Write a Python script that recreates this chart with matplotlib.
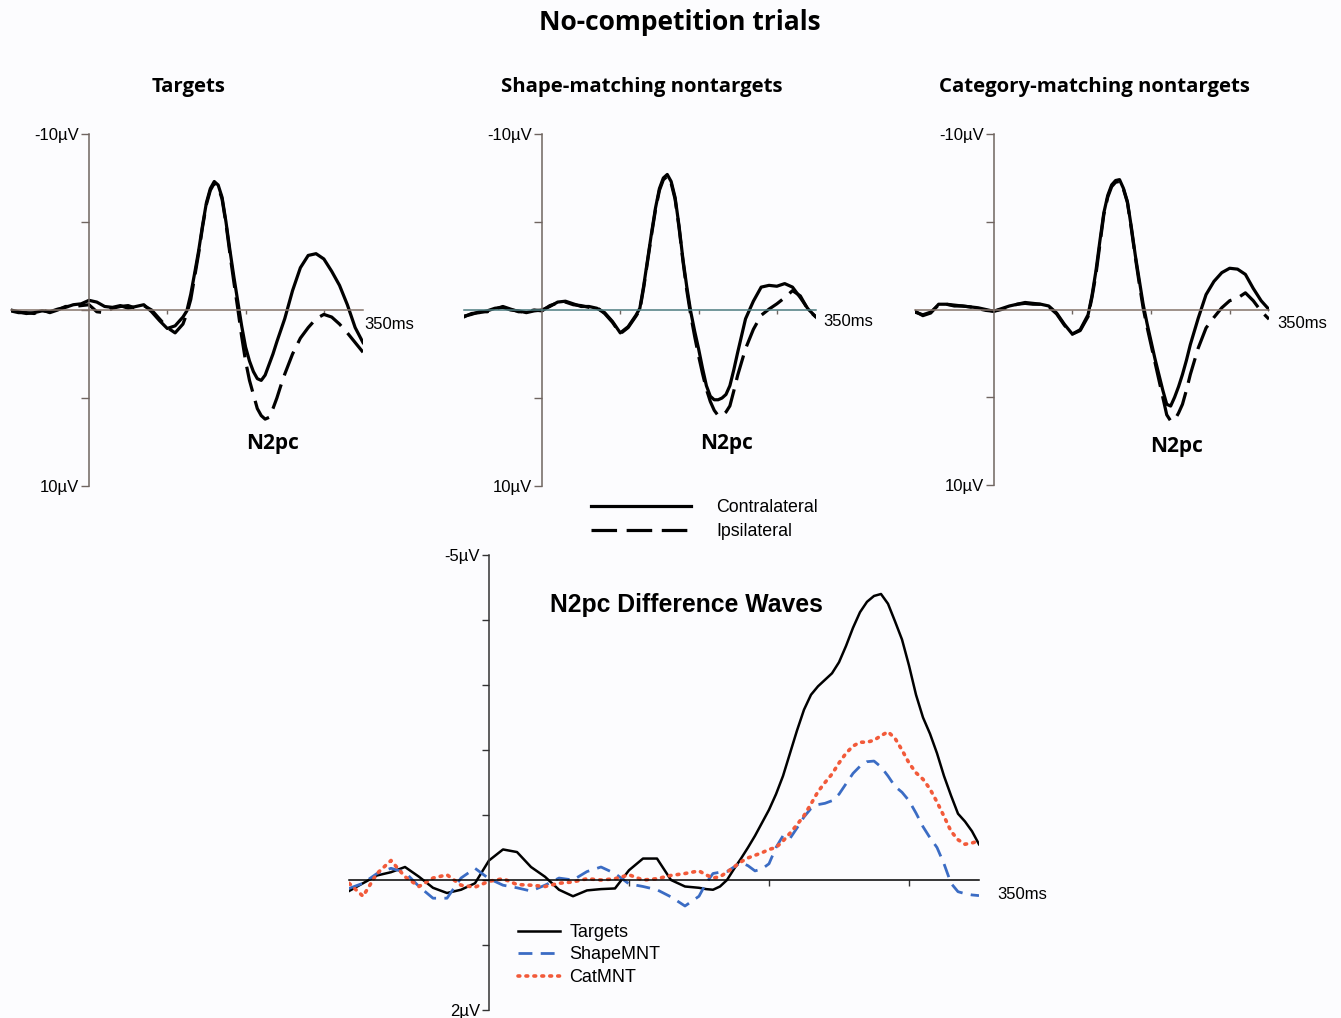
import matplotlib.pyplot as plt
import numpy as np

plt.rcParams['font.family'] = 'Liberation Sans'

W, H = 1341, 1018

# time base (ms) for the contra/ipsi waveforms: finer steps across P1/N2pc
times = np.concatenate([np.arange(-100, 120, 10), np.arange(120, 251, 5), np.arange(260, 351, 10)])

# grand-average ERPs (µV), contralateral / ipsilateral
targ_contra = [0.0, 0.1, 0.2, 0.15, 0.05, 0.1, -0.05, -0.15, -0.3, -0.35, -0.55, -0.45, -0.2, -0.15,
               -0.25, -0.1, -0.2, -0.3, 0.1, 0.6, 1.05, 0.9,
               0.4, 0.05, -0.9, -2.1, -3.35, -4.8, -6.1, -6.9, -7.3, -7.1, -6.4, -5.0, -3.4, -1.9,
               -0.5, 0.9, 2.1, 2.9, 3.5, 3.9, 4.0, 3.7, 3.1, 2.5, 1.8, 1.15, 0.5,
               -1.1, -2.4, -3.1, -3.2, -2.9, -2.2, -1.4, -0.3, 1.0, 1.85]
targ_ipsi = [0.05, 0.15, 0.15, 0.2, 0.0, 0.15, 0.0, -0.2, -0.2, -0.25, -0.3, 0.1, 0.15, -0.1,
             -0.2, -0.25, -0.1, -0.25, 0.0, 0.5, 1.0, 1.3,
             0.8, 0.2, -0.6, -1.9, -3.2, -4.7, -6.0, -6.8, -7.2, -7.0, -6.3, -4.9, -3.2, -1.6,
             -0.1, 1.5, 2.9, 4.0, 4.8, 5.6, 6.0, 6.2, 6.1, 5.6, 5.0, 4.3, 3.65,
             2.5, 1.6, 1.0, 0.5, 0.25, 0.4, 0.8, 1.3, 1.85, 2.4]

shape_contra = [0.4, 0.2, 0.15, 0.05, -0.1, -0.15, 0.0, 0.05, 0.15, 0.05, 0.0, -0.2, -0.45, -0.5,
                -0.35, -0.2, -0.2, -0.1, 0.15, 0.65, 1.3, 0.95,
                0.3, -0.1, -1.4, -2.9, -4.4, -5.8, -6.9, -7.5, -7.7, -7.3, -6.4, -4.8, -2.9, -1.3,
                0.1, 1.2, 2.2, 3.3, 4.3, 4.9, 5.1, 5.1, 5.0, 4.8, 4.3, 3.4, 2.4,
                0.5, -0.5, -1.3, -1.4, -1.35, -1.5, -1.3, -0.7, -0.05, 0.4]
shape_ipsi = [0.35, 0.25, 0.1, 0.1, -0.05, -0.2, -0.05, 0.1, 0.1, 0.0, 0.05, -0.25, -0.4, -0.45,
              -0.3, -0.25, -0.15, -0.15, 0.2, 0.7, 1.35, 1.0,
              0.35, 0.0, -1.3, -2.8, -4.3, -5.7, -6.8, -7.4, -7.6, -7.2, -6.3, -4.7, -2.8, -1.1,
              0.3, 1.5, 2.6, 3.6, 4.5, 5.2, 5.7, 6.0, 6.0, 5.8, 5.45, 4.6, 3.7,
              2.2, 1.1, 0.3, -0.05, -0.35, -0.7, -1.1, -0.8, 0.0, 0.4]

cat_contra = [0.1, 0.35, 0.2, -0.3, -0.3, -0.25, -0.2, -0.15, -0.1, 0.0, 0.1, -0.05, -0.2, -0.3,
              -0.4, -0.35, -0.3, -0.2, 0.2, 0.85, 1.4, 1.15,
              0.3, -0.8, -2.2, -3.9, -5.5, -6.5, -7.1, -7.35, -7.4, -6.9, -6.15, -4.7, -3.1, -1.7,
              -0.3, 0.8, 1.8, 2.8, 3.7, 4.6, 5.4, 5.5, 5.0, 4.4, 3.7, 2.9, 2.0,
              0.5, -0.85, -1.6, -2.1, -2.35, -2.3, -2.0, -1.2, -0.5, 0.0]
cat_ipsi = [0.15, 0.3, 0.15, -0.25, -0.3, -0.2, -0.2, -0.15, -0.05, 0.05, 0.1, 0.0, -0.15, -0.3,
            -0.35, -0.3, -0.3, -0.15, 0.25, 0.9, 1.4, 1.2,
            0.4, -0.7, -2.0, -3.7, -5.4, -6.4, -7.0, -7.25, -7.3, -6.85, -6.1, -4.6, -3.0, -1.5,
            -0.1, 1.0, 2.0, 3.0, 4.0, 5.0, 6.0, 6.35, 6.3, 5.9, 5.4, 4.6, 3.7,
            2.2, 1.05, 0.45, -0.1, -0.5, -0.65, -0.95, -0.5, 0.1, 0.55]

# contralateral minus ipsilateral difference waves (µV)
diff_times = np.concatenate([np.arange(-100, 150, 10), np.arange(150, 351, 5)])
diff_targets = [0.17, 0.05, -0.07, -0.12, -0.2, -0.05, 0.12, 0.2, 0.15, 0.05, -0.3, -0.47, -0.43,
                -0.2, -0.05, 0.15, 0.25, 0.16, 0.14, 0.13, -0.15, -0.33, -0.33, 0.0, 0.1,
                0.12, 0.14, 0.15, 0.1, 0.0, -0.17, -0.33, -0.5, -0.68, -0.88, -1.08, -1.32, -1.6,
                -1.95, -2.3, -2.62, -2.85, -2.98, -3.08, -3.18, -3.35, -3.6, -3.88, -4.12, -4.28,
                -4.37, -4.4, -4.25, -3.98, -3.7, -3.3, -2.85, -2.5, -2.25, -1.95, -1.6, -1.3,
                -1.02, -0.9, -0.75, -0.55]
diff_shape = [0.13, 0.05, -0.1, -0.18, -0.12, 0.1, 0.28, 0.28, -0.03, -0.18, -0.02, 0.08, 0.12,
              0.17, 0.08, -0.03, 0.0, -0.13, -0.2, -0.1, 0.06, 0.1, 0.15, 0.26, 0.4,
              0.25, 0.05, -0.1, -0.12, -0.13, -0.2, -0.27, -0.22, -0.14, -0.17, -0.25, -0.5,
              -0.68, -0.64, -0.8, -0.97, -1.1, -1.16, -1.18, -1.22, -1.32, -1.48, -1.64, -1.75,
              -1.82, -1.83, -1.74, -1.6, -1.44, -1.35, -1.22, -1.03, -0.82, -0.65, -0.5, -0.25,
              0.05, 0.18, 0.21, 0.23, 0.24]
diff_cat = [0.05, 0.25, -0.1, -0.3, -0.05, 0.1, -0.03, -0.08, 0.08, 0.11, 0.02, -0.02, 0.07, 0.08,
            0.1, 0.05, 0.03, -0.02, 0.0, -0.02, -0.08, 0.0, -0.02, -0.07, -0.1,
            -0.14, -0.08, -0.03, -0.05, -0.12, -0.2, -0.28, -0.34, -0.38, -0.42, -0.47, -0.5,
            -0.6, -0.72, -0.85, -0.99, -1.17, -1.36, -1.5, -1.63, -1.8, -1.95, -2.06, -2.12,
            -2.12, -2.15, -2.22, -2.28, -2.18, -2.0, -1.8, -1.65, -1.55, -1.4, -1.2, -0.98,
            -0.75, -0.62, -0.55, -0.57, -0.6]

panels = [
    ("Targets", targ_contra, targ_ipsi, (10.7, 363, 134, 486), '#85736a', (352, 0.85), (234, 7.6)),
    ("Shape-matching nontargets", shape_contra, shape_ipsi, (463.7, 816, 134, 486), '#4d7c80',
     (359, 0.65), (236, 7.6)),
    ("Category-matching nontargets", cat_contra, cat_ipsi, (915, 1269, 134, 485), '#85736a',
     (361, 0.8), (232, 7.8)),
]

bg = '#fcfcfe'
fig = plt.figure(figsize=(W / 100, H / 100), dpi=100, facecolor=bg)


def px_box(x0, x1, y0, y1):
    return [x0 / W, 1 - y1 / H, (x1 - x0) / W, (y1 - y0) / H]


def erp_axes(ax, xaxis_color):
    ax.set_facecolor('none')
    for s in ('top', 'right'):
        ax.spines[s].set_visible(False)
    ax.spines['left'].set_position(('data', 0))
    ax.spines['bottom'].set_position(('data', 0))
    ax.spines['left'].set_color('#6f6560')
    ax.spines['bottom'].set_color(xaxis_color)
    ax.spines['left'].set_linewidth(1.1)
    ax.spines['bottom'].set_linewidth(1.1)
    ax.set_xticks([100, 200, 300])
    ax.set_xticklabels([])
    ax.tick_params(axis='x', direction='out', length=3.2, width=1, color='#6f6560')
    ax.tick_params(axis='y', direction='out', length=5.5, width=1, color='#6f6560',
                   pad=1.5, labelsize=12)


fig.text(680 / W, 1 - 22 / H, "No-competition trials", ha='center', va='center',
         family='Open Sans', weight='bold', fontsize=19)

lines_for_legend = None
for title, contra, ipsi, box, xcol, ms_pos, n2_pos in panels:
    ax = fig.add_axes(px_box(*box))
    erp_axes(ax, xcol)
    ax.set_xlim(-100, 350)
    ax.set_ylim(10, -10)
    ax.set_yticks([-10, -5, 0, 5, 10])
    ax.set_yticklabels(['-10µV', '', '', '', '10µV'])
    l1, = ax.plot(times, contra, color='black', lw=2.3, solid_joinstyle='round')
    l2, = ax.plot(times, ipsi, color='black', lw=2.3, linestyle=(0, (8, 3)))
    ax.text(*ms_pos, '350ms', ha='left', va='center', fontsize=12)
    ax.text(*n2_pos, 'N2pc', ha='center', va='center', family='Open Sans',
            weight='bold', fontsize=15)
    cx = (box[0] + box[1]) / 2 + 2
    fig.text(cx / W, 1 - 87 / H, title, ha='center', va='center', family='Open Sans',
             weight='bold', fontsize=14.7)
    if lines_for_legend is None:
        lines_for_legend = (l1, l2)

fig.legend(lines_for_legend, ['Contralateral', 'Ipsilateral'], loc='upper left',
           bbox_to_anchor=(591 / W, 1 - 499 / H), frameon=False, fontsize=12.8,
           handlelength=5.6, handletextpad=1.45, labelspacing=0.42, borderpad=0,
           borderaxespad=0)

# difference waves
axd = fig.add_axes(px_box(349, 979, 555, 1010))
erp_axes(axd, 'black')
axd.spines['left'].set_color('#333333')
axd.set_xlim(-100, 350)
axd.set_ylim(2, -5)
axd.set_yticks(np.arange(-5, 3))
axd.set_yticklabels(['-5µV', '', '', '', '', '', '', '2µV'])
axd.tick_params(axis='x', length=4, color='#333333')
axd.tick_params(axis='y', length=5, color='#333333')
axd.plot(diff_times, diff_targets, color='black', lw=1.8, label='Targets')
axd.plot(diff_times, diff_shape, color='#3b6cc4', lw=2.0, linestyle=(0, (5, 3)),
         label='ShapeMNT')
axd.plot(diff_times, diff_cat, color='#f25a3a', lw=2.6, linestyle=(0, (0.5, 1.7)),
         dash_capstyle='round', label='CatMNT')
axd.text(363, 0.22, '350ms', ha='left', va='center', fontsize=12)
axd.text(141, -4.23, 'N2pc Difference Waves', ha='center', va='center',
         weight='bold', fontsize=17.8)
axd.legend(loc='upper left', bbox_to_anchor=((518 - 349) / 630, (1010 - 924) / 455),
           frameon=False, fontsize=13, handlelength=2.3, handletextpad=0.55,
           labelspacing=0.3, borderpad=0, borderaxespad=0)

fig.savefig('out.png', dpi=100, facecolor=bg)
